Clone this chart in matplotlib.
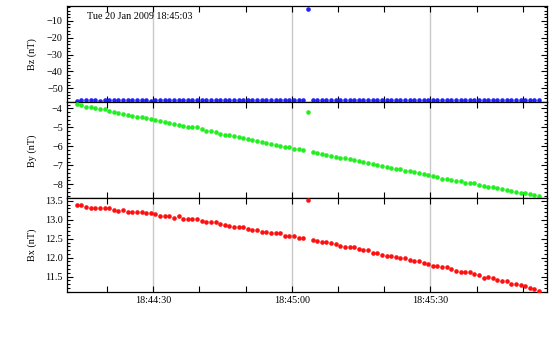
#!/usr/bin/env python3
"""
Magnetometer components Bz, By, Bx around 18:45:03 on 20 Jan 2009.
Three stacked panels sharing one time axis.
"""

import matplotlib
matplotlib.use("Agg")
import matplotlib.pyplot as plt
from matplotlib.ticker import MultipleLocator, AutoMinorLocator, FuncFormatter, FormatStrFormatter
import numpy as np

# Data: one sample per second, time in seconds after 18:44:00
t_start = 13.5
title_text = "Tue 20 Jan 2009 18:45:03"

bz = [-57.3, -56.7, -56.7, -56.7, -56.7, -57.3, -56.7, -56.7, -56.7, -56.7,
      -56.7, -56.7, -56.7, -56.7, -56.7, -56.7, -57.3, -56.7, -56.7, -56.7,
      -56.7, -56.7, -56.7, -56.7, -56.7, -56.7, -56.7, -56.7, -56.7, -56.7,
      -56.7, -56.7, -56.7, -56.7, -56.7, -56.7, -56.7, -56.7, -56.7, -56.7,
      -56.7, -56.7, -56.7, -56.7, -56.7, -56.7, -56.7, -56.7, -56.7, -56.7,
      -3.1, -56.7, -56.7, -56.7, -56.7, -56.7, -56.7, -56.7, -56.7, -56.7,
      -56.7, -56.7, -56.7, -56.7, -56.7, -56.7, -56.7, -56.7, -56.7, -56.7,
      -56.7, -56.7, -56.7, -56.7, -56.7, -56.7, -56.7, -56.7, -56.7, -56.7,
      -56.7, -56.7, -56.7, -56.7, -56.7, -56.7, -56.7, -56.7, -56.7, -56.7,
      -56.7, -56.7, -56.7, -56.7, -56.7, -56.7, -56.7, -56.7, -56.7, -56.7,
      -56.7]

by = [-3.77, -3.83, -3.90, -3.93, -3.98, -4.04, -4.02, -4.12, -4.18, -4.23,
      -4.30, -4.35, -4.41, -4.46, -4.44, -4.49, -4.56, -4.60, -4.65, -4.70,
      -4.76, -4.81, -4.86, -4.93, -4.98,
      -4.98, -4.98, -5.07, -5.17, -5.17, -5.25, -5.35, -5.41, -5.41, -5.46,
      -5.51, -5.57, -5.60, -5.65, -5.70, -5.77, -5.81, -5.88, -5.93, -5.98,
      -6.04, -6.04, -6.12, -6.12, -6.18,
      -4.20,
      -6.28, -6.35, -6.41, -6.46, -6.51, -6.56, -6.62, -6.62, -6.67, -6.72,
      -6.77, -6.83, -6.88, -6.93, -6.98, -7.04, -7.09, -7.14, -7.19, -7.19,
      -7.30, -7.30, -7.35, -7.40, -7.45, -7.51,
      -7.55, -7.62, -7.72, -7.70, -7.75, -7.82, -7.81, -7.93, -7.93, -7.93,
      -8.02, -8.07, -8.12, -8.12, -8.18, -8.25, -8.30, -8.35, -8.42, -8.47,
      -8.46, -8.49, -8.55, -8.60]

bx = [13.39, 13.39, 13.35, 13.32, 13.32, 13.32, 13.30, 13.30, 13.27, 13.24,
      13.27, 13.22, 13.22, 13.22, 13.22, 13.17, 13.17, 13.16, 13.11, 13.11,
      13.09, 13.06, 13.09, 13.03, 13.03,
      13.01, 13.01, 12.98, 12.95, 12.95, 12.93, 12.90, 12.87, 12.85, 12.82,
      12.82, 12.80, 12.77, 12.74, 12.72, 12.69, 12.69, 12.66, 12.66, 12.64,
      12.58, 12.56, 12.58, 12.53, 12.53,
      13.53,
      12.48, 12.45, 12.42, 12.42, 12.40, 12.35, 12.32, 12.29, 12.27, 12.27,
      12.24, 12.21, 12.19, 12.13, 12.11, 12.08, 12.05, 12.05, 12.03, 12.00,
      11.98, 11.95, 11.92, 11.90, 11.87, 11.84,
      11.79, 11.79, 11.76, 11.74, 11.69, 11.66, 11.63, 11.61, 11.61, 11.58,
      11.53, 11.47, 11.50, 11.47, 11.42, 11.37, 11.37, 11.31, 11.31, 11.29,
      11.26, 11.21, 11.18, 11.13]

times = t_start + np.arange(len(bz))

plt.rcParams['font.family'] = ['Liberation Serif', 'DejaVu Serif']
plt.rcParams['font.size'] = 7.3

fig = plt.figure(figsize=(5.6, 3.4), dpi=100)

left, width = 0.1196, 0.8575
ax_z = fig.add_axes([left, 0.6990, width, 0.2834])
ax_y = fig.add_axes([left, 0.4168, width, 0.2822])
ax_x = fig.add_axes([left, 0.1421, width, 0.2747])

panels = [
    (ax_z, bz, '#1f1fff', 'Bz (nT)', (-58.3, -1.3), 10, 5, None),
    (ax_y, by, '#22ee22', 'By (nT)', (-8.74, -3.68), 1, 5, None),
    (ax_x, bx, '#ff1010', 'Bx (nT)', (11.10, 13.57), 0.5, 5, '%.1f'),
]

def time_label(v, pos):
    s = int(round(v))
    if s % 30 != 0:
        return ''
    return '18:%02d:%02d' % (44 + s // 60, s % 60)

for ax, vals, col, label, ylim, major, nminor, fmt in panels:
    for g in (30, 60, 90):
        ax.axvline(g, color='#c8c8c8', linewidth=1.0, zorder=0)
    ax.plot(times, vals, 'o', color=col, markersize=3.3, markeredgewidth=0, zorder=3)
    ax.set_xlim(11.37, 115.25)
    ax.set_ylim(*ylim)
    ax.yaxis.set_major_locator(MultipleLocator(major))
    ax.yaxis.set_minor_locator(AutoMinorLocator(nminor))
    if fmt:
        ax.yaxis.set_major_formatter(FormatStrFormatter(fmt))
    ax.xaxis.set_major_locator(MultipleLocator(10))
    ax.tick_params(axis='both', which='both', direction='in', top=True, right=True,
                   width=0.8, color='black')
    ax.tick_params(axis='both', which='major', length=4, pad=3)
    ax.tick_params(axis='y', which='minor', length=2)
    ax.set_ylabel(label)
    ax.yaxis.set_label_coords(-0.0625, 0.5)
    for sp in ax.spines.values():
        sp.set_linewidth(0.9)
    if ax is ax_x:
        ax.xaxis.set_major_formatter(FuncFormatter(time_label))
    else:
        ax.tick_params(axis='x', labelbottom=False)

ax_z.text(0.042, 0.896, title_text, transform=ax_z.transAxes, ha='left', va='center')

fig.savefig('out.png', dpi=100)
